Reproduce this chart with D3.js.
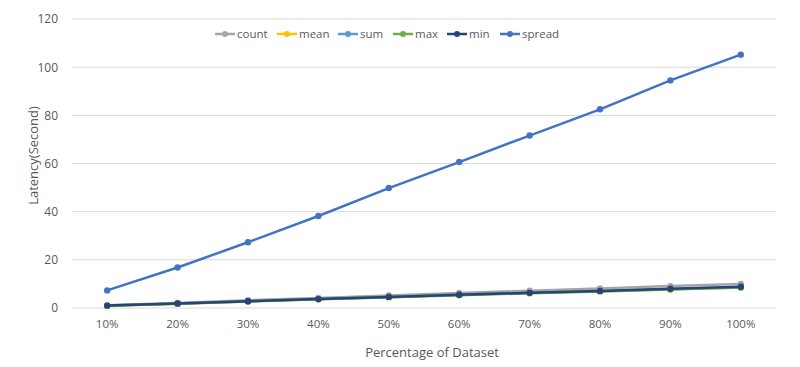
<!DOCTYPE html>
<html lang="en">
<head>
    <meta charset="UTF-8">
    <title>Latency vs Percentage of Dataset</title>
    <script src="https://d3js.org/d3.v7.min.js"></script>
    <style>
        body {
            margin: 0;
            background-color: #ffffff;
            font-family: "Open Sans", sans-serif;
        }
        .chart text {
            fill: #595959;
        }
    </style>
</head>
<body>
    <svg class="chart" width="800" height="367"></svg>
    <script>
        const categories = ['10%', '20%', '30%', '40%', '50%', '60%', '70%', '80%', '90%', '100%'];
        const yTicks = [0, 20, 40, 60, 80, 100, 120];

        const countVals  = [1.1, 2.1, 3.2, 4.2, 5.2, 6.2, 7.2, 8.1, 9.1, 10.0];
        const meanVals   = [0.9, 1.8, 2.7, 3.6, 4.5, 5.4, 6.2, 7.0, 7.8, 8.5];
        const sumVals    = [1.0, 1.9, 2.8, 3.7, 4.6, 5.5, 6.3, 7.1, 7.9, 8.7];
        const maxVals    = [0.9, 1.8, 2.7, 3.6, 4.5, 5.3, 6.1, 6.9, 7.7, 8.5];
        const minVals    = [1.0, 1.9, 2.8, 3.7, 4.6, 5.5, 6.3, 7.1, 8.0, 8.8];
        const spreadVals = [7.3, 16.8, 27.3, 38.2, 49.8, 60.6, 71.6, 82.5, 94.5, 105.2];

        const series = [
            { name: 'count', values: countVals, color: '#a5a5a5' },
            { name: 'mean', values: meanVals, color: '#ffc000' },
            { name: 'sum', values: sumVals, color: '#5b9bd5' },
            { name: 'max', values: maxVals, color: '#70ad47' },
            { name: 'min', values: minVals, color: '#264478' },
            { name: 'spread', values: spreadVals, color: '#4472c4' }
        ];

        const svg = d3.select('.chart');
        const margin = { top: 19, right: 24, bottom: 59, left: 72 };
        const width = 800 - margin.left - margin.right;
        const height = 367 - margin.top - margin.bottom;

        const chart = svg.append('g')
            .attr('transform', `translate(${margin.left},${margin.top})`);

        const x = d3.scaleBand().domain(categories).range([0, width]);
        const y = d3.scaleLinear().domain([0, 120]).range([height, 0]);

        // gridlines
        chart.append('g')
            .selectAll('line')
            .data(yTicks)
            .join('line')
            .attr('x1', 0)
            .attr('x2', width)
            .attr('y1', d => y(d))
            .attr('y2', d => y(d))
            .attr('stroke', '#d9d9d9')
            .attr('stroke-width', 1);

        const yAxis = chart.append('g')
            .call(d3.axisLeft(y).tickValues(yTicks).tickSize(0).tickPadding(14));
        yAxis.select('.domain').remove();
        yAxis.selectAll('text').style('font-size', '12px').style('font-family', '"Open Sans", sans-serif');

        const xAxis = chart.append('g')
            .attr('transform', `translate(0,${height})`)
            .call(d3.axisBottom(x).tickSize(0).tickPadding(12));
        xAxis.select('.domain').remove();
        xAxis.selectAll('text').style('font-size', '11.5px').style('font-family', '"Open Sans", sans-serif');

        const line = d3.line()
            .x((d, i) => x(categories[i]) + x.bandwidth() / 2)
            .y(d => y(d));

        series.forEach(s => {
            chart.append('path')
                .datum(s.values)
                .attr('fill', 'none')
                .attr('stroke', s.color)
                .attr('stroke-width', 2.5)
                .attr('d', line);
            chart.append('g')
                .selectAll('circle')
                .data(s.values)
                .join('circle')
                .attr('cx', (d, i) => x(categories[i]) + x.bandwidth() / 2)
                .attr('cy', d => y(d))
                .attr('r', 3.2)
                .attr('fill', s.color);
        });

        // axis titles
        svg.append('text')
            .attr('transform', 'rotate(-90)')
            .attr('x', -(margin.top + height / 2 - 8))
            .attr('y', 38)
            .style('text-anchor', 'middle')
            .style('font-size', '13px')
            .text('Latency(Second)');

        svg.append('text')
            .attr('x', 432)
            .attr('y', 357)
            .style('text-anchor', 'middle')
            .style('font-size', '13px')
            .text('Percentage of Dataset');

        // legend
        const legendX = [215, 277, 338, 393, 447, 500];
        const legend = svg.append('g');
        series.forEach((s, i) => {
            const g = legend.append('g')
                .attr('transform', `translate(${legendX[i]},34)`);
            g.append('line')
                .attr('x1', 0).attr('x2', 20)
                .attr('stroke', s.color).attr('stroke-width', 2.5);
            g.append('circle')
                .attr('cx', 10).attr('r', 3)
                .attr('fill', s.color);
            g.append('text')
                .attr('x', 22)
                .attr('dy', '0.35em')
                .style('font-size', '11.5px')
                .text(s.name);
        });
    </script>
</body>
</html>
